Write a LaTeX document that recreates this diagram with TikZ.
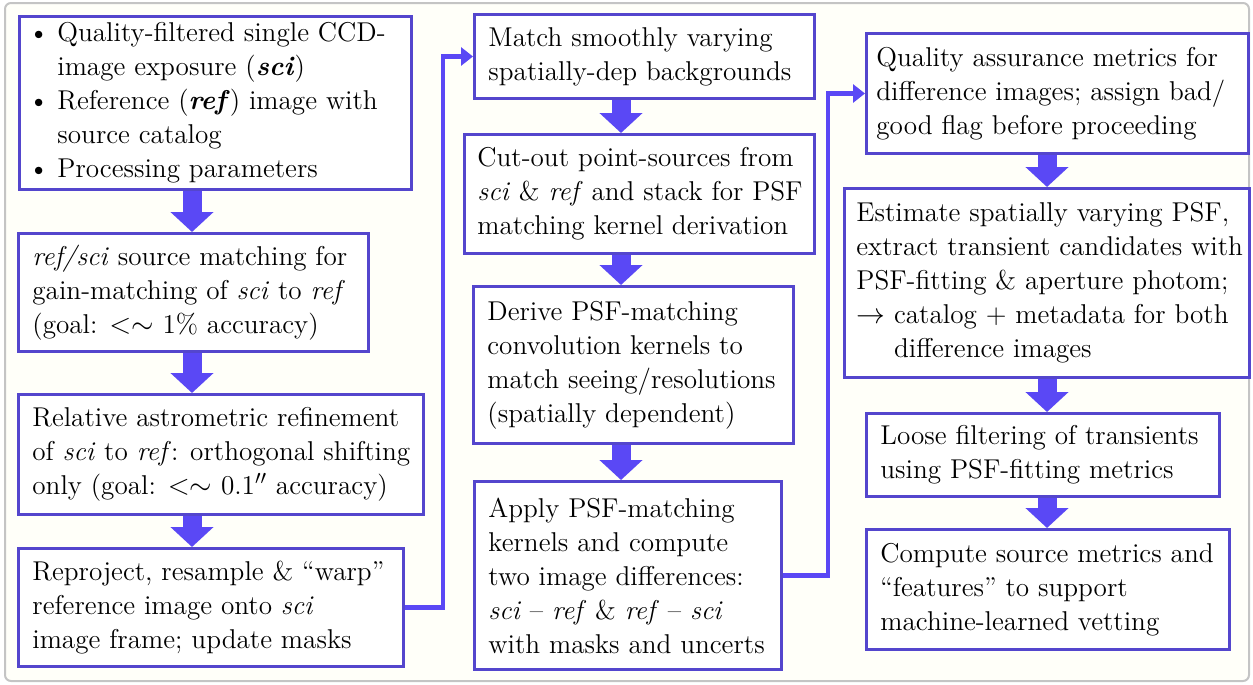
\documentclass[tikz,border=0pt]{standalone}
\usepackage{fontspec}
\usetikzlibrary{arrows.meta,calc}
\definecolor{boxblue}{RGB}{84,70,205}
\definecolor{arrblue}{RGB}{90,72,245}
\definecolor{framegray}{RGB}{196,196,196}
\definecolor{bgcream}{RGB}{255,255,249}
\begin{document}
\begin{tikzpicture}[x=0.5pt,y=-0.5pt,
 box/.style={draw=boxblue,line width=1.5pt,fill=white,anchor=north west,inner sep=0pt},
 txt/.style={anchor=west,align=left,inner sep=0pt,font=\fontsize{13.6pt}{17pt}\selectfont},
 flow/.style={draw=arrblue,line width=9.5pt,-{Triangle[width=21pt,length=10pt]}},
 conn/.style={draw=arrblue,line width=2.3pt,-{Triangle[width=9pt,length=6pt]}}]
\useasboundingbox (0,0) rectangle (1253,685);
\draw[framegray,line width=1pt,fill=bgcream,rounded corners=3pt] (5,3) rectangle (1249,681);

% left column
\node[box,minimum width=196pt,minimum height=86.5pt] (b1) at (18,15) {};
\node[txt] (t1) at ($(b1.west)+(10,0)$) {\makebox[14.5pt][l]{\textbullet}Quality-filtered single CCD-\\
\hspace*{14.5pt}image exposure (\textbf{\textit{sci}})\\
\makebox[14.5pt][l]{\textbullet}Reference (\textbf{\textit{ref}}) image with\\
\hspace*{14.5pt}source catalog\\
\makebox[14.5pt][l]{\textbullet}Processing parameters};

\node[box,minimum width=175pt,minimum height=59pt] (b2) at (17,232) {};
\node[txt] (t2) at ($(b2.west)+(15,0)$) {\textit{ref/sci} source matching for\\
gain-matching of \textit{sci} to \textit{ref}\\
(goal: {$<$}{$\sim$} 1\% accuracy)};

\node[box,minimum width=202.5pt,minimum height=60pt] (b3) at (17,393) {};
\node[txt] (t3) at ($(b3.west)+(15,0)$) {Relative astrometric refinement\\
of \textit{sci} to \textit{ref}: orthogonal shifting\\
only (goal: {$<$}{$\sim$} 0.1$''$ accuracy)};

\node[box,minimum width=192.5pt,minimum height=59pt] (b4) at (17,547) {};
\node[txt] (t4) at ($(b4.west)+(15,0)$) {Reproject, resample \& “warp”\\
reference image onto \textit{sci}\\
image frame; update masks};

% middle column
\node[box,minimum width=170pt,minimum height=42pt] (b5) at (473,13) {};
\node[txt] (t5) at ($(b5.west)+(15,0)$) {Match smoothly varying\\
spatially-dep backgrounds};

\node[box,minimum width=175pt,minimum height=59.5pt] (b6) at (463,133) {};
\node[txt] (t6) at ($(b6.west)+(14,0)$) {Cut-out point-sources from\\
\textit{sci} \& \textit{ref} and stack for PSF\\
matching kernel derivation};

\node[box,minimum width=160pt,minimum height=78.5pt] (b7) at (472,285) {};
\node[txt] (t7) at ($(b7.west)+(15,0)$) {Derive PSF-matching\\
convolution kernels to\\
match seeing/resolutions\\
(spatially dependent)};

\node[box,minimum width=153.5pt,minimum height=94pt] (b8) at (473,480) {};
\node[txt] (t8) at ($(b8.west)+(15,0)$) {Apply PSF-matching\\
kernels and compute\\
two image differences:\\
\textit{sci} -- \textit{ref} \& \textit{ref} -- \textit{sci}\\
with masks and uncerts};

% right column
\node[box,minimum width=191pt,minimum height=60pt] (b9) at (865,32) {};
\node[txt] (t9) at ($(b9.west)+(11,0)$) {Quality assurance metrics for\\
difference images; assign bad/\\
good flag before proceeding};

\node[box,minimum width=202.5pt,minimum height=94.5pt] (b10) at (843,187) {};
\node[txt] (t10) at ($(b10.west)+(13,0)$) {Estimate spatially varying PSF,\\
extract transient candidates with\\
PSF-fitting \& aperture photom;\\
$\rightarrow$ catalog + metadata for both\\
\phantom{$\rightarrow$ }difference images};

\node[box,minimum width=176.5pt,minimum height=41.5pt] (b11) at (865,412) {};
\node[txt] (t11) at ($(b11.west)+(15,0)$) {Loose filtering of transients\\
using PSF-fitting metrics};

\node[box,minimum width=181.5pt,minimum height=60pt] (b12) at (865,528) {};
\node[txt] (t12) at ($(b12.west)+(15,0)$) {Compute source metrics and\\
“features” to support\\
machine-learned vetting};

% block arrows
\coordinate (lx) at (192,0);
\coordinate (mx) at (621,0);
\coordinate (rx) at (1047,0);
\draw[flow] (b1.south -| lx) -- (b2.north -| lx);
\draw[flow] (b2.south -| lx) -- (b3.north -| lx);
\draw[flow] (b3.south -| lx) -- (b4.north -| lx);
\draw[flow] (b5.south -| mx) -- (b6.north -| mx);
\draw[flow] (b6.south -| mx) -- (b7.north -| mx);
\draw[flow] (b7.south -| mx) -- (b8.north -| mx);
\draw[flow] (b9.south -| rx) -- (b10.north -| rx);
\draw[flow] (b10.south -| rx) -- (b11.north -| rx);
\draw[flow] (b11.south -| rx) -- (b12.north -| rx);

% column connectors
\path (b5.west) ++(-30,0) coordinate (k1);
\draw[conn] (b4.east) -| (k1) -- (b5.west);
\path (b9.west) ++(-37,0) coordinate (k2);
\draw[conn] (b8.east) -| (k2) -- (b9.west);
\end{tikzpicture}
\end{document}
